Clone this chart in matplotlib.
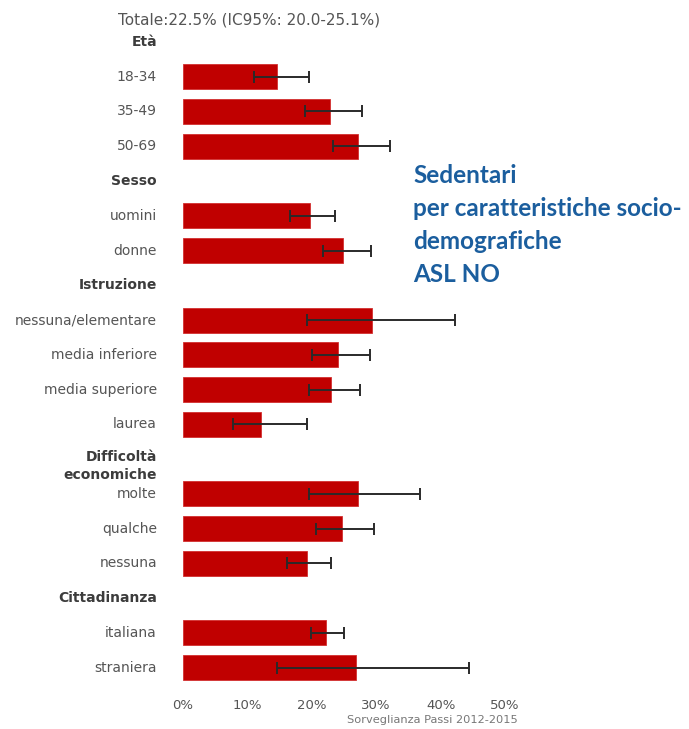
import matplotlib
matplotlib.use("Agg")
import matplotlib.pyplot as plt
from matplotlib.transforms import offset_copy

# Sedentari per caratteristiche socio-demografiche (%), IC95%
groups = ["Età", "Sesso", "Istruzione", "Difficoltà\neconomiche", "Cittadinanza"]
categories = [
    ["18-34", "35-49", "50-69"],
    ["uomini", "donne"],
    ["nessuna/elementare", "media inferiore", "media superiore", "laurea"],
    ["molte", "qualche", "nessuna"],
    ["italiana", "straniera"],
]
values = [
    [14.6, 22.8, 27.2],
    [19.7, 24.9],
    [29.3, 24.1, 23.0, 12.1],
    [27.2, 24.7, 19.2],
    [22.2, 26.8],
]
ci_low = [
    [11.0, 18.9, 23.3],
    [16.6, 21.7],
    [19.3, 20.1, 19.5, 7.8],
    [19.5, 20.6, 16.2],
    [19.8, 14.6],
]
ci_high = [
    [19.6, 27.8, 32.1],
    [23.6, 29.2],
    [42.2, 29.1, 27.5, 19.2],
    [36.8, 29.6, 23.0],
    [25.0, 44.4],
]
x_ticks = [0, 10, 20, 30, 40, 50]
title = "Totale:22.5% (IC95%: 20.0-25.1%)"
source = "Sorveglianza Passi 2012-2015"
side_title = "Sedentari\nper caratteristiche socio-\ndemografiche\nASL NO"

BAR = "#c00000"
GREY = "#555555"
HEAD = "#3c3c3c"

fig = plt.figure(figsize=(6.89, 7.29), dpi=100)
ax = fig.add_axes([183 / 689, 1 - 685 / 729, 322 / 689, (685 - 24.6) / 729])

label_tf = offset_copy(ax.get_yaxis_transform(), fig=fig, x=-26, y=0, units="dots")

row = 0
for g, cats, vals, lo, hi in zip(groups, categories, values, ci_low, ci_high):
    if "\n" in g:
        ax.text(0, row - 0.25, g, transform=label_tf, ha="right", va="top",
                fontsize=10, fontweight="bold", color=HEAD, linespacing=1.35)
    else:
        ax.text(0, row, g, transform=label_tf, ha="right", va="center",
                fontsize=10, fontweight="bold", color=HEAD)
    row += 1
    for c, v, l, h in zip(cats, vals, lo, hi):
        ax.barh(row, v, height=0.72, color=BAR, edgecolor="#d23030", linewidth=0.6)
        ax.errorbar(v, row, xerr=[[v - l], [h - v]], fmt="none", ecolor="#2a2a2a",
                    elinewidth=1.4, capsize=4.3, capthick=1.4)
        ax.text(0, row, c, transform=label_tf, ha="right", va="center",
                fontsize=10, color=GREY)
        row += 1

ax.set_xlim(0, 50)
ax.set_ylim(row - 0.5, -0.5)
ax.set_xticks(x_ticks)
ax.set_xticklabels([f"{t}%" for t in x_ticks], fontsize=9.5, color=GREY)
ax.set_yticks([])
ax.tick_params(axis="x", length=0, pad=10)
for s in ax.spines.values():
    s.set_visible(False)

fig.text(249 / 689, 1 - 20 / 729, title, ha="center", va="center",
         fontsize=11, color=GREY)
fig.text(518 / 689, 1 - 720 / 729, source, ha="right", va="center",
         fontsize=8.2, color="#777777")
fig.text(413 / 689, 1 - 164 / 729, side_title, ha="left", va="top",
         fontsize=17.5, fontweight="bold", family="Lato", color="#1b5e9e",
         linespacing=1.52)

fig.savefig("out.png", dpi=100)
